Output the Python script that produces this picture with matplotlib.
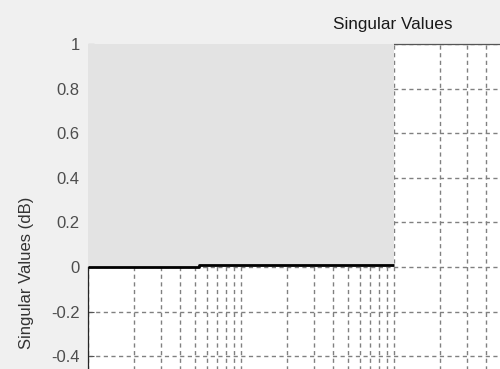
import matplotlib.pyplot as plt

plt.rcParams['font.family'] = ['Liberation Sans', 'DejaVu Sans']

# singular value trace (rad/s, dB)
freq = [1, 5.3, 5.3, 100]
sv_db = [0.0, 0.0, 0.008, 0.008]

# shaded bound region
bound_freq = [1, 100]
bound_low = [0, 0]
bound_high = [2, 2]

yticks = [-0.4, -0.2, 0, 0.2, 0.4, 0.6, 0.8, 1]
ytick_labels = ['-0.4', '-0.2', '0', '0.2', '0.4', '0.6', '0.8', '1']

W, H = 500, 369
fig = plt.figure(figsize=(W / 100, H / 100), dpi=100, facecolor='#f0f0f0')

# axes is larger than the visible figure (cropped view)
left, top = 88, 44
dec = 153        # pixels per decade
unit = 223       # pixels per 1 dB
ax = fig.add_axes([left / W, 1 - (top + 2 * unit) / H, 4 * dec / W, 2 * unit / H])
ax.set_facecolor('white')
ax.set_xscale('log')
ax.set_xlim(1, 1e4)
ax.set_ylim(-1, 1)

ax.set_axisbelow(True)
grid_style = dict(color='#808080', lw=1.0, linestyle=(0, (3, 2.5)))
ax.grid(True, which='both', axis='x', **grid_style)
ax.grid(True, which='major', axis='y', **grid_style)

ax.fill_between(bound_freq, bound_low, bound_high, color='#e3e3e3', lw=0, zorder=3)
ax.plot(freq, sv_db, color='black', lw=2, zorder=4, solid_capstyle='butt')

ax.set_yticks(yticks)
ax.set_yticklabels(ytick_labels)
ax.tick_params(axis='both', which='both', direction='in', colors='#555555',
               labelcolor='#4d4d4d', labelsize=12, length=4, pad=6)
ax.tick_params(axis='x', labelbottom=False)
for s in ax.spines.values():
    s.set_color('#555555')
    s.set_linewidth(0.9)
ax.spines['left'].set_color('#262626')
# the shaded bound hides the box edges it touches
ax.spines['top'].set_bounds(100, 1e4)
ax.spines['left'].set_bounds(-1, 0)

fig.text(393 / W, 1 - 25 / H, 'Singular Values', ha='center', va='center',
         fontsize=12.3, color='#1a1a1a')
fig.text(27 / W, 1 - 273 / H, 'Singular Values (dB)', rotation=90,
         ha='center', va='center', fontsize=12, color='#333333')

fig.savefig('out.png', dpi=100, facecolor=fig.get_facecolor())
